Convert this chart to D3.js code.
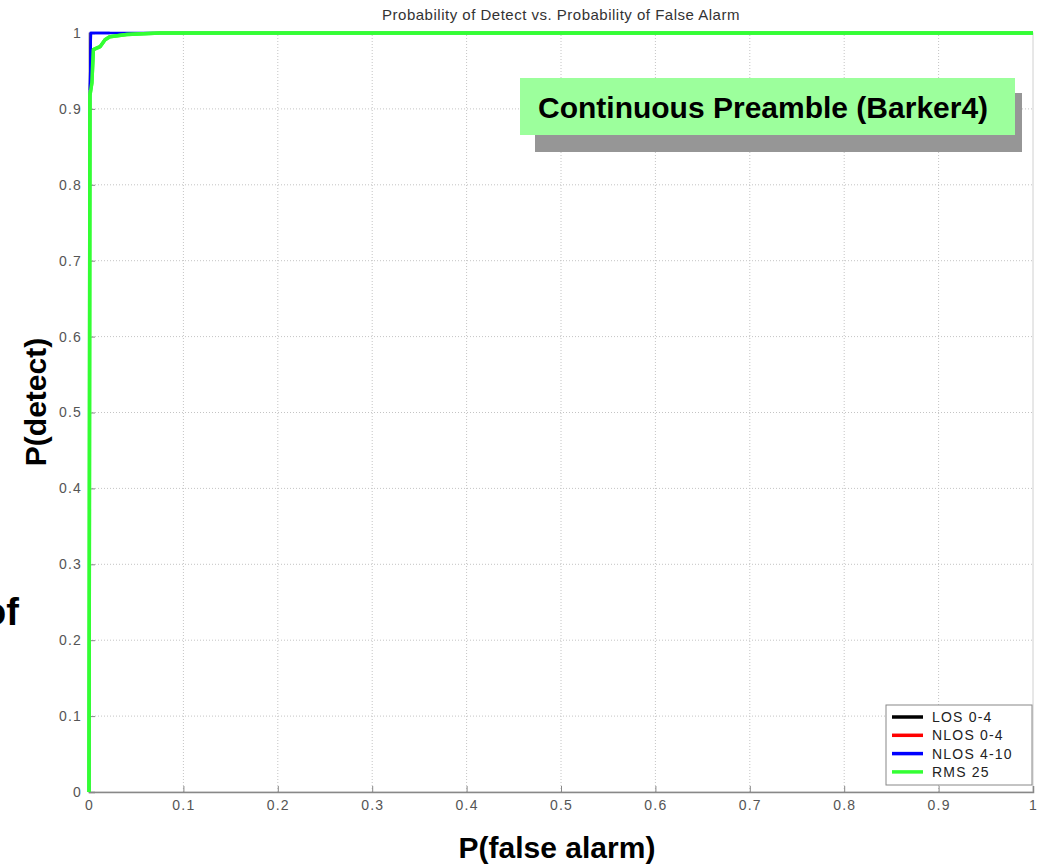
<!DOCTYPE html>
<html><head><meta charset="utf-8">
<script src="https://cdn.jsdelivr.net/npm/d3@7"></script>
<style>body{margin:0;background:#fff;}svg{display:block;font-family:Arial,"Liberation Sans",sans-serif;}</style>
</head><body><svg id="c" width="1047" height="867"></svg>
<script>
const title = "Probability of Detect vs. Probability of False Alarm";
const xLabel = "P(false alarm)";
const yLabel = "P(detect)";
const annotation = "Continuous Preamble (Barker4)";
const xTicks = [0,0.1,0.2,0.3,0.4,0.5,0.6,0.7,0.8,0.9,1];
const yTicks = [0,0.1,0.2,0.3,0.4,0.5,0.6,0.7,0.8,0.9,1];
const seriesNames = ["LOS 0-4","NLOS 0-4","NLOS 4-10","RMS 25"];
const seriesColors = ["#000000","#ff0000","#0000ff","#33ff33"];
const los04 = [[0,0],[0.001,0.93],[0.002,1],[0.02,1],[1,1]];
const nlos04 = [[0,0],[0.001,0.93],[0.002,1],[0.02,1],[1,1]];
const nlos410 = [[0,0],[0.001,0.925],[0.002,1],[0.022,1],[1,1]];
const rms25 = [[0,0],[0.001,0.918],[0.003,0.934],[0.0046,0.978],[0.0117,0.982],[0.017,0.991],[0.022,0.995],[0.04,0.998],[0.075,1],[1,1]];
const seriesData = [los04, nlos04, nlos410, rms25];
const seriesWidths = [2,2,2.5,3.5];

const svg = d3.select("#c");
const x = d3.scaleLinear().domain([0,1]).range([89,1033]);
const y = d3.scaleLinear().domain([0,1]).range([792,33]);

// grid
const grid = svg.append("g");
grid.selectAll(".gx").data(xTicks.slice(1,-1)).enter().append("line")
  .attr("x1",d=>x(d)).attr("x2",d=>x(d)).attr("y1",y(0)).attr("y2",y(1))
  .attr("stroke","#c4c4c4").attr("stroke-width",1).attr("stroke-dasharray","1,2");
grid.selectAll(".gy").data(yTicks.slice(1,-1)).enter().append("line")
  .attr("y1",d=>y(d)).attr("y2",d=>y(d)).attr("x1",x(0)).attr("x2",x(1))
  .attr("stroke","#c4c4c4").attr("stroke-width",1).attr("stroke-dasharray","1,2");

// box
svg.append("rect").attr("x",x(0)).attr("y",y(1)).attr("width",x(1)-x(0)).attr("height",y(0)-y(1))
  .attr("fill","none").attr("stroke","#d0d0d0").attr("stroke-width",1);

// axes
const xAxis = svg.append("g").attr("transform",`translate(0,${y(0)})`)
  .call(d3.axisBottom(x).tickValues(xTicks).tickFormat(d=>d3.format("")(d)).tickSize(-6).tickPadding(11));
const yAxis = svg.append("g").attr("transform",`translate(${x(0)},0)`)
  .call(d3.axisLeft(y).tickValues(yTicks).tickFormat(d=>d3.format("")(d)).tickSize(-6).tickPadding(7));
[xAxis,yAxis].forEach(a=>{
  a.select(".domain").attr("stroke","#888").attr("stroke-width",1.5);
  a.selectAll(".tick line").attr("stroke","#888");
  a.selectAll(".tick text").attr("fill","#555").attr("font-size","14px")
    .attr("letter-spacing","1.2px").attr("font-family","Arial, Liberation Sans, sans-serif");
});
xAxis.selectAll(".tick text").attr("dy","0.5em");

// lines
const line = d3.line().x(d=>x(d[0])).y(d=>y(d[1]));
seriesData.forEach((s,i)=>{
  svg.append("path").datum(s).attr("d",line).attr("fill","none")
    .attr("stroke",seriesColors[i]).attr("stroke-width",seriesWidths[i]).attr("stroke-linejoin","round");
});
svg.append("path").datum(nlos410.slice(1,4)).attr("d",line).attr("fill","none")
  .attr("stroke",seriesColors[2]).attr("stroke-width",2.5);
svg.append("path").datum(rms25).attr("d",line).attr("fill","none")
  .attr("stroke",seriesColors[3]).attr("stroke-width",3.5).attr("stroke-linejoin","round");

// title
svg.append("text").attr("x",561).attr("y",20).attr("text-anchor","middle")
  .attr("font-size","15px").attr("letter-spacing","0.5px").attr("fill","#333").text(title);

// legend
const lg = svg.append("g");
lg.append("rect").attr("x",886).attr("y",705).attr("width",146).attr("height",80)
  .attr("fill","#fff").attr("stroke","#888").attr("stroke-width",1);
seriesNames.forEach((n,i)=>{
  const yy = 717 + i*18.3;
  lg.append("line").attr("x1",892).attr("x2",923).attr("y1",yy).attr("y2",yy)
    .attr("stroke",seriesColors[i]).attr("stroke-width",3.5);
  lg.append("text").attr("x",932).attr("y",yy+5).attr("font-size","14px")
    .attr("letter-spacing","1.2px").attr("fill","#222").text(n);
});

// annotation
svg.append("rect").attr("x",535).attr("y",93).attr("width",487).attr("height",59).attr("fill","#969696");
svg.append("rect").attr("x",520).attr("y",78).attr("width",495).attr("height",57).attr("fill","#9cff9c");
svg.append("text").attr("x",538).attr("y",118).attr("font-size","30px").attr("font-weight","bold")
  .attr("fill","#000").text(annotation);

// axis labels
svg.append("text").attr("x",557).attr("y",858).attr("text-anchor","middle")
  .attr("font-size","30px").attr("font-weight","bold").text(xLabel);
svg.append("text").attr("transform","translate(46,402) rotate(-90)").attr("text-anchor","middle")
  .attr("font-size","30px").attr("font-weight","bold").text(yLabel);
svg.append("text").attr("x",-17).attr("y",625).attr("font-size","38px").attr("font-weight","bold").text("of");
</script></body></html>
